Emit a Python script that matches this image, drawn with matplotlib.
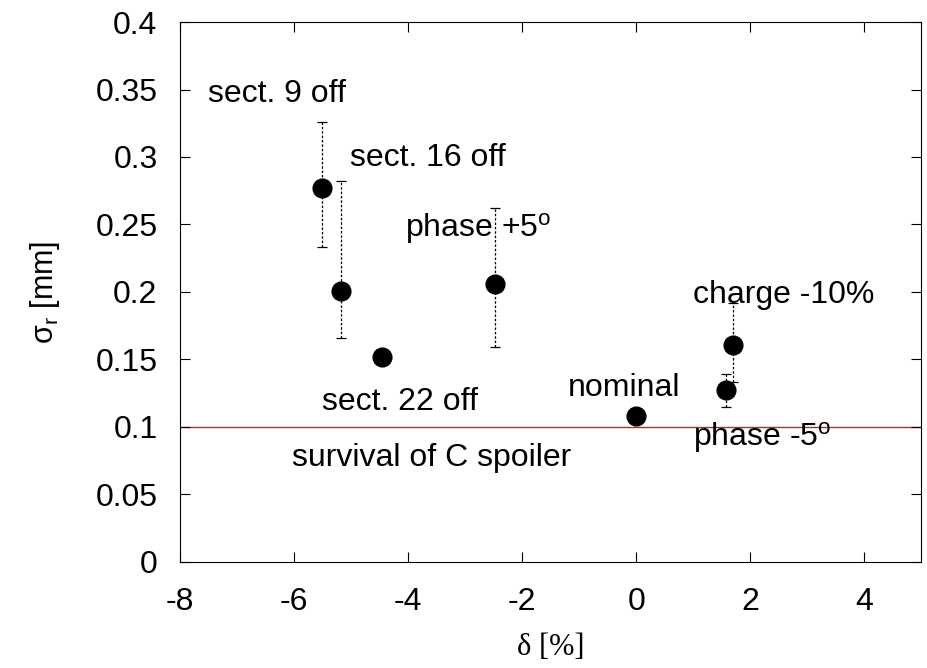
import matplotlib
matplotlib.use('Agg')
import matplotlib.pyplot as plt

plt.rcParams['font.family'] = ['Liberation Sans', 'DejaVu Sans']
plt.rcParams['axes.unicode_minus'] = False
plt.rcParams['mathtext.fontset'] = 'custom'
plt.rcParams['mathtext.rm'] = 'Liberation Sans'
plt.rcParams['mathtext.it'] = 'Liberation Sans'

# shifts and measured widths
delta = [-5.5, -5.18, -4.46, -2.47, 0.0, 1.58, 1.70]
sigma = [0.277, 0.201, 0.152, 0.206, 0.108, 0.127, 0.161]
err_lo = [0.044, 0.035, 0.0, 0.047, 0.0, 0.012, 0.028]
err_hi = [0.049, 0.081, 0.0, 0.056, 0.0, 0.012, 0.031]

labels = ["sect. 9 off", "sect. 16 off", "phase +5$^{\\mathrm{o}}$", "charge -10%",
          "sect. 22 off", "nominal", "survival of C spoiler", "phase -5$^{\\mathrm{o}}$"]
label_x = [-7.51, -5.02, -4.05, 1.0, -5.51, -1.19, -6.04, 1.0]
label_y = [0.347, 0.299, 0.247, 0.198, 0.1185, 0.129, 0.077, 0.092]

limit = 0.1

fig = plt.figure(figsize=(9.27, 6.68), dpi=100)
ax = fig.add_axes([0.194, 0.159, 0.8, 0.808])

eb = ax.errorbar(delta, sigma, yerr=[err_lo, err_hi], fmt='o', color='black',
                 markersize=13.5, ecolor='black', elinewidth=0.9, capsize=3.5,
                 capthick=0.9, zorder=3)
for bar in eb[2]:
    bar.set_linestyle((0, (2, 1.5)))

ax.axhline(limit, color='#cc2222', linewidth=1.0, zorder=1)

for t, x, y in zip(labels, label_x, label_y):
    ax.text(x, y, t, fontsize=23, ha='left', va='center', color='black')

ax.set_xlim(-8, 5)
ax.set_ylim(0, 0.4)
ax.set_xticks([-8, -6, -4, -2, 0, 2, 4])
ax.set_yticks([0, 0.05, 0.1, 0.15, 0.2, 0.25, 0.3, 0.35, 0.4])
ax.set_yticklabels(['0', '0.05', '0.1', '0.15', '0.2', '0.25', '0.3', '0.35', '0.4'])
ax.tick_params(direction='in', length=7, labelsize=23, top=True, right=True)
ax.tick_params(axis='x', pad=18)
ax.tick_params(axis='y', pad=16)

ax.set_xlabel('δ [%]', fontsize=22, family=['Liberation Serif', 'DejaVu Serif'], labelpad=12)
ax.set_ylabel('σ$_\\mathrm{r}$ [mm]', fontsize=22, labelpad=24)

plt.savefig('out.png', dpi=100)
